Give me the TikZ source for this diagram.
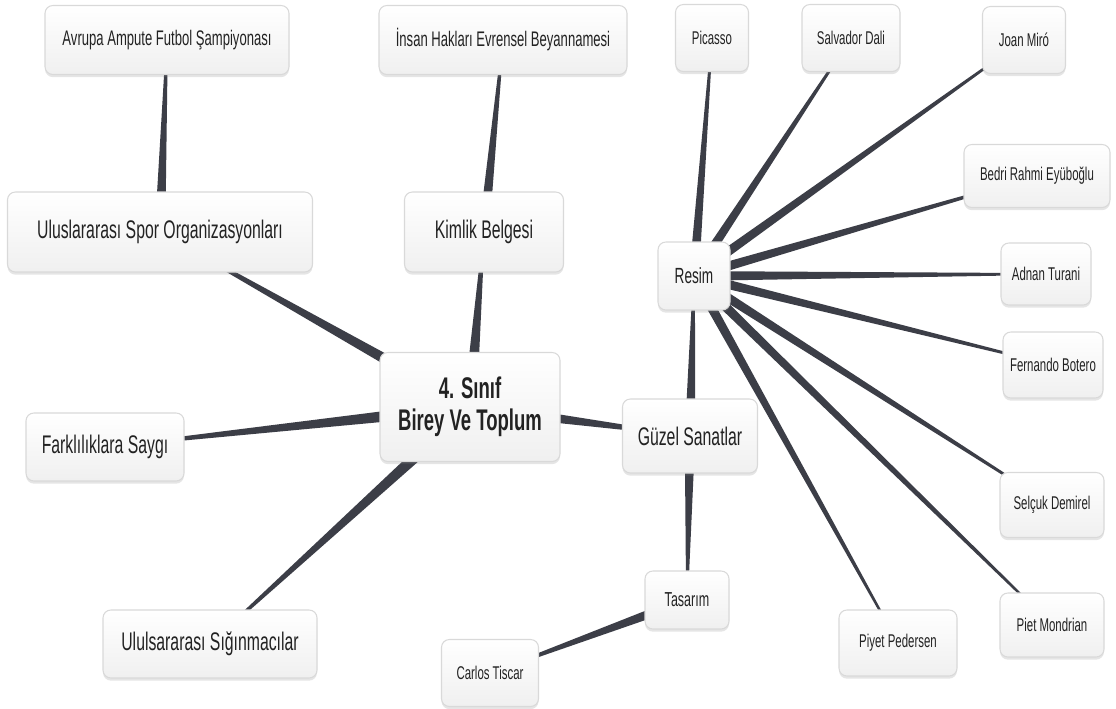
\documentclass[tikz,border=0pt]{standalone}
\usepackage{fontspec}
\setmainfont[FakeStretch=0.62]{Liberation Sans}
\usetikzlibrary{calc,backgrounds,shadows}
\definecolor{linkgray}{HTML}{3C3E47}
\definecolor{textgray}{HTML}{222222}
% tapered connector: thick at the parent #1, thin at the child #2
\newcommand\branch[3]{%
  \fill[link] ($(#1)!#3!90:(#2)$) -- ($(#2)!0.5pt!-90:(#1)$)
    -- ($(#2)!0.5pt!90:(#1)$) -- ($(#1)!#3!-90:(#2)$) -- cycle;}
\begin{document}
\begin{tikzpicture}[x=0.02cm, y=-0.02cm,
    box/.style={draw=gray!30, line width=0.6pt, rounded corners=4.5pt,
      top color=white, bottom color=gray!12, text=textgray, align=center, inner sep=0pt,
      drop shadow={opacity=0.2, shadow xshift=0pt, shadow yshift=-1.5pt}},
    sz/.style 2 args={minimum width=#1*0.02cm, minimum height=#2*0.02cm},
    leaf/.style={box, font=\fontsize{10.5}{12}\selectfont},
    mid/.style={box, font=\fontsize{12}{14}\selectfont},
    big/.style={box, font=\fontsize{14.5}{16}\selectfont},
    link/.style={fill=linkgray}]
  \useasboundingbox (0,0) rectangle (1116,708);

  % centre and left side
  \node[box, sz={180}{109}, font=\fontsize{17}{18}\selectfont\bfseries] (core) at (470,407) {4. Sınıf\\Birey Ve Toplum};
  \node[big, sz={305}{80}] (spor) at (160,232) {Uluslararası Spor Organizasyonları};
  \node[mid, sz={244}{69}] (avrupa) at (167,40) {Avrupa Ampute Futbol Şampiyonası};
  \node[big, sz={158}{68}] (fark) at (105,447) {Farklılıklara Saygı};
  \node[big, sz={214}{68}] (siginma) at (210,644) {Ululsararası Sığınmacılar};
  \node[mid, sz={248}{69}] (insan) at (503,40) {İnsan Hakları Evrensel Beyannamesi};
  \node[big, sz={159}{80}] (kimlik) at (484,232) {Kimlik Belgesi};

  % arts
  \node[big, sz={135}{74}] (guzel) at (690,436) {Güzel Sanatlar};
  \node[box, sz={72}{68}, font=\fontsize{12.5}{14}\selectfont] (resim) at (694,276) {Resim};
  \node[box, sz={84}{58}, font=\fontsize{11.5}{13}\selectfont] (tasarim) at (687,600) {Tasarım};
  \node[leaf, sz={97}{67}] (carlos) at (490,673) {Carlos Tiscar};

  \node[leaf, sz={73}{67}] (picasso) at (712,38) {Picasso};
  \node[leaf, sz={98}{67}] (dali) at (851,38) {Salvador Dali};
  \node[leaf, sz={83}{67}] (miro) at (1024,40) {Joan Miró};
  \node[leaf, sz={146}{63}] (bedri) at (1037,176) {Bedri Rahmi Eyüboğlu};
  \node[leaf, sz={90}{62}] (adnan) at (1046,274) {Adnan Turani};
  \node[leaf, sz={100}{66}] (botero) at (1053,365) {Fernando Botero};
  \node[leaf, sz={104}{65}] (selcuk) at (1052,505) {Selçuk Demirel};
  \node[leaf, sz={104}{64}] (mondrian) at (1052,625) {Piet Mondrian};
  \node[leaf, sz={118}{66}] (pedersen) at (898,643) {Piyet Pedersen};

  \begin{scope}[on background layer]
    \fill[white] (0,0) rectangle (1116,708);
    \foreach \n in {spor,fark,siginma,kimlik,guzel} \branch{core}{\n}{3.8pt};
    \branch{spor}{avrupa}{3pt}
    \branch{kimlik}{insan}{3pt}
    \branch{guzel}{resim}{3pt}
    \branch{guzel}{tasarim}{3pt}
    \branch{tasarim}{carlos}{3pt}
    \foreach \n in {picasso,dali,miro,bedri,adnan,botero,selcuk,mondrian,pedersen}
      \branch{resim}{\n}{2.8pt};
  \end{scope}
\end{tikzpicture}
\end{document}
